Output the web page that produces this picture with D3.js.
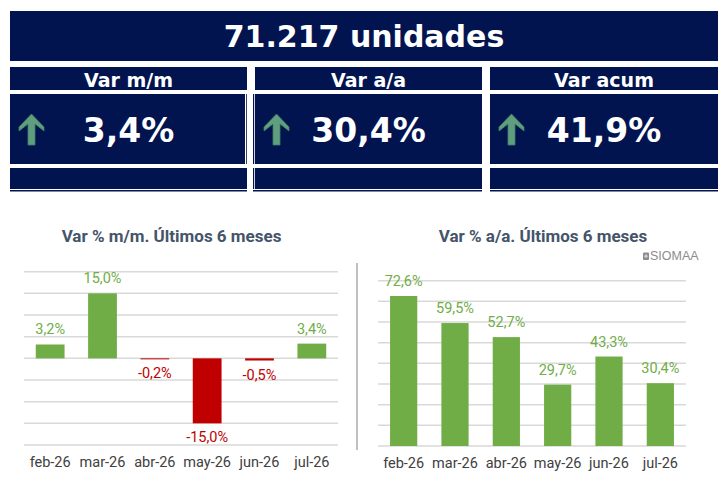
<!DOCTYPE html>
<html>
<head>
<meta charset="utf-8">
<script src="https://cdn.jsdelivr.net/npm/d3@7"></script>
<style>
  body { margin: 0; background: #fff; }
  svg { display: block; }
</style>
</head>
<body>
<div id="chart"></div>
<script>
// headline figures
const totalUnits = '71.217 unidades';
const cardTitles = ['Var m/m', 'Var a/a', 'Var acum'];
const cardValues = ['3,4%', '30,4%', '41,9%'];

// monthly series
const months = ['feb-26', 'mar-26', 'abr-26', 'may-26', 'jun-26', 'jul-26'];
const varMoM = [3.2, 15.0, -0.2, -15.0, -0.5, 3.4];
const varYoY = [72.6, 59.5, 52.7, 29.7, 43.3, 30.4];

const W = 725, H = 490;
const navy = '#021450';
const green = '#70ad47';
const red = '#c00000';
const esLocale = d3.formatLocale({ decimal: ',', thousands: '.', grouping: [3], currency: ['', '€'], minus: '-' });
const fmt = v => esLocale.format('.1f')(v) + '%';

const svg = d3.select('#chart').append('svg')
  .attr('width', W).attr('height', H);

/* ---------- KPI cards ---------- */
const cards = svg.append('g').attr('class', 'cards');

cards.append('rect')
  .attr('x', 10).attr('y', 11).attr('width', 708).attr('height', 50)
  .attr('fill', navy);

cards.append('text')
  .attr('x', 364).attr('y', 47)
  .attr('text-anchor', 'middle')
  .style('font', 'bold 30px "DejaVu Sans"')
  .attr('fill', '#fff')
  .text(totalUnits);

const cols = [[10, 247], [255, 482], [490, 718]];

const col = cards.selectAll('.col')
  .data(cols.map((c, i) => ({ x0: c[0], x1: c[1], title: cardTitles[i], value: cardValues[i] })))
  .enter().append('g')
  .attr('class', 'col');

col.append('rect')
  .attr('x', d => d.x0).attr('y', 67)
  .attr('width', d => d.x1 - d.x0).attr('height', 23)
  .attr('fill', navy);

col.append('text')
  .attr('x', d => (d.x0 + d.x1) / 2).attr('y', 87)
  .attr('text-anchor', 'middle')
  .style('font', 'bold 19px "DejaVu Sans"')
  .attr('fill', '#fff')
  .text(d => d.title);

col.append('rect')
  .attr('x', d => d.x0).attr('y', 94)
  .attr('width', d => d.x1 - d.x0).attr('height', 70)
  .attr('fill', navy);

col.append('rect')
  .attr('x', d => d.x0).attr('y', 168)
  .attr('width', d => d.x1 - d.x0).attr('height', 21)
  .attr('fill', navy);

col.append('rect')
  .attr('x', d => d.x0).attr('y', 190)
  .attr('width', d => d.x1 - d.x0).attr('height', 1.5)
  .attr('fill', navy);

// thin cell borders between first and second card
cards.append('rect').attr('x', 245).attr('y', 94).attr('width', 1.2).attr('height', 70).attr('fill', '#fff');
cards.append('rect').attr('x', 253).attr('y', 94).attr('width', 1.2).attr('height', 70).attr('fill', navy);
cards.append('rect').attr('x', 253).attr('y', 168).attr('width', 1.2).attr('height', 21).attr('fill', navy);
cards.append('rect').attr('x', 253).attr('y', 190).attr('width', 2).attr('height', 1.5).attr('fill', navy);

// up arrow icon
const arrowPath = 'M12.5,0 L25,13 L25,17 L16,10 L16,31 L9,31 L9,10 L0,17 L0,13 Z';
col.append('path')
  .attr('transform', d => `translate(${d.x0 + 9},114)`)
  .attr('d', arrowPath)
  .attr('fill', '#5f9e7e')
  .attr('stroke', '#3f7d5f')
  .attr('stroke-width', 0.8);

col.append('text')
  .attr('x', d => (d.x0 + d.x1) / 2).attr('y', 142)
  .attr('text-anchor', 'middle')
  .style('font', 'bold 33px "DejaVu Sans"')
  .attr('fill', '#fff')
  .text(d => d.value);

/* ---------- bar charts ---------- */
function barChart(opts) {
  const g = svg.append('g');

  const x = d3.scaleBand()
    .domain(months)
    .range(opts.xRange)
    .paddingInner(opts.pad)
    .paddingOuter(opts.pad / 2);

  const y = d3.scaleLinear()
    .domain(opts.yDomain)
    .range(opts.yRange);

  g.append('text')
    .attr('x', opts.titleX).attr('y', 242)
    .attr('text-anchor', 'middle')
    .style('font', 'bold 17px Roboto')
    .attr('fill', '#44546a')
    .text(opts.title);

  g.selectAll('.grid')
    .data(y.ticks(8))
    .enter().append('line')
    .attr('x1', opts.xRange[0]).attr('x2', opts.xRange[1])
    .attr('y1', d => y(d)).attr('y2', d => y(d))
    .attr('stroke', '#d9d9d9')
    .attr('stroke-width', 1.5);

  const data = months.map((m, i) => ({ m: m, v: opts.values[i] }));

  g.selectAll('.bar')
    .data(data)
    .enter().append('rect')
    .attr('x', d => x(d.m))
    .attr('width', x.bandwidth())
    .attr('y', d => y(Math.max(0, d.v)))
    .attr('height', d => Math.max(1, Math.abs(y(d.v) - y(0))))
    .attr('fill', d => d.v >= 0 ? green : red);

  g.selectAll('.lbl')
    .data(data)
    .enter().append('text')
    .attr('x', d => x(d.m) + x.bandwidth() / 2)
    .attr('y', d => d.v >= 0 ? y(d.v) - 10 : y(d.v) + 19)
    .attr('text-anchor', 'middle')
    .style('font', '14.5px Roboto')
    .attr('fill', d => d.v >= 0 ? green : red)
    .text(d => fmt(d.v));

  g.selectAll('.xlbl')
    .data(months)
    .enter().append('text')
    .attr('x', d => x(d) + x.bandwidth() / 2)
    .attr('y', opts.labelY)
    .attr('text-anchor', 'middle')
    .style('font', '14.5px Roboto')
    .attr('fill', '#404040')
    .text(d => d);

  return g;
}

barChart({
  title: 'Var % m/m. Últimos 6 meses',
  titleX: 171.5,
  values: varMoM,
  xRange: [24, 338],
  pad: 0.45,
  yDomain: [-20, 20],
  yRange: [445, 271.7],
  labelY: 467
});

barChart({
  title: 'Var % a/a. Últimos 6 meses',
  titleX: 543,
  values: varYoY,
  xRange: [378, 686],
  pad: 0.47,
  yDomain: [0, 80],
  yRange: [446, 280.7],
  labelY: 468
});

// separator between the two charts
svg.append('line')
  .attr('x1', 357).attr('x2', 357)
  .attr('y1', 263).attr('y2', 450)
  .attr('stroke', '#808080')
  .attr('stroke-width', 1);

// source mark
svg.append('rect')
  .attr('x', 643).attr('y', 252.5).attr('width', 6).attr('height', 7.5)
  .attr('rx', 1).attr('fill', '#8c8c8c');
svg.append('circle')
  .attr('cx', 646).attr('cy', 256.2).attr('r', 1.6)
  .attr('fill', '#d0d0d0');
svg.append('text')
  .attr('x', 650).attr('y', 260)
  .style('font', '12.5px "Liberation Sans"')
  .attr('fill', '#8c8c8c')
  .text('SIOMAA');
</script>
</body>
</html>
